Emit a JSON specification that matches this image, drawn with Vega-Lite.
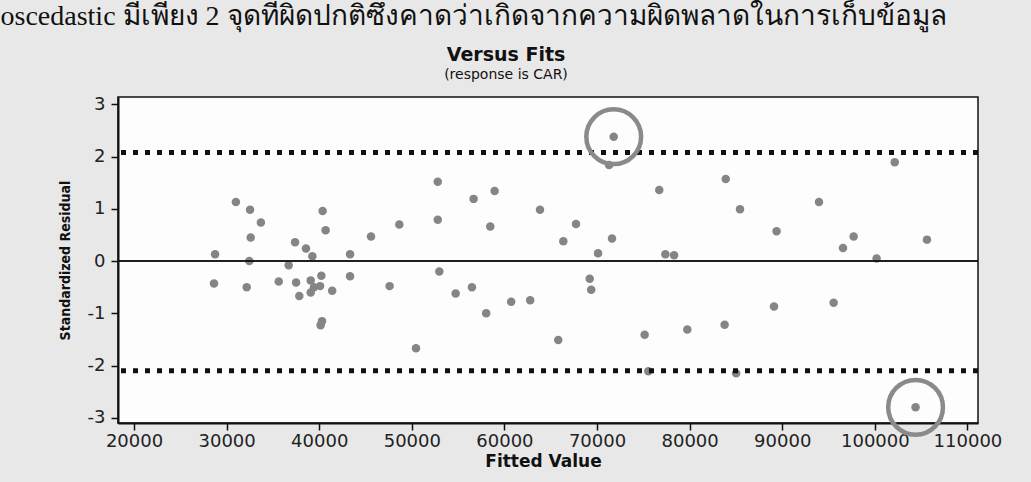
{
  "$schema": "https://vega.github.io/schema/vega-lite/v6.json",
  "width": 860,
  "height": 326,
  "autosize": "none",
  "padding": {"left": 118, "top": 97, "right": 53, "bottom": 59},
  "background": "#e8e8e8",
  "title": {
    "text": "Versus Fits",
    "subtitle": "(response is CAR)",
    "anchor": "middle",
    "frame": "group",
    "dx": -42,
    "dy": 80,
    "offset": 0,
    "font": "DejaVu Sans",
    "fontSize": 19,
    "fontWeight": "bold",
    "color": "#111",
    "subtitleFont": "DejaVu Sans",
    "subtitleFontSize": 14,
    "subtitleColor": "#111",
    "subtitlePadding": 3
  },
  "config": {
    "view": {"fill": "#fdfdfd", "stroke": "#111", "strokeWidth": 1.5},
    "axis": {
      "grid": false,
      "domainColor": "#111",
      "domainWidth": 2,
      "tickColor": "#111",
      "tickWidth": 1.5,
      "tickSize": 7,
      "labelFont": "DejaVu Sans",
      "labelFontSize": 18,
      "labelColor": "#222",
      "titleFont": "DejaVu Sans",
      "titleColor": "#111",
      "titleFontWeight": "bold"
    }
  },
  "datasets": {
    "fits": [
      {"fit": 28750, "resid": 0.13, "flag": false},
      {"fit": 28640, "resid": -0.43, "flag": false},
      {"fit": 31000, "resid": 1.13, "flag": false},
      {"fit": 32530, "resid": 0.98, "flag": false},
      {"fit": 33700, "resid": 0.74, "flag": false},
      {"fit": 32600, "resid": 0.45, "flag": false},
      {"fit": 32450, "resid": 0.0, "flag": false},
      {"fit": 32170, "resid": -0.5, "flag": false},
      {"fit": 35630, "resid": -0.39, "flag": false},
      {"fit": 36700, "resid": -0.08, "flag": false},
      {"fit": 37390, "resid": 0.36, "flag": false},
      {"fit": 37500, "resid": -0.41, "flag": false},
      {"fit": 37850, "resid": -0.67, "flag": false},
      {"fit": 38570, "resid": 0.24, "flag": false},
      {"fit": 39260, "resid": 0.09, "flag": false},
      {"fit": 39080, "resid": -0.37, "flag": false},
      {"fit": 39080, "resid": -0.6, "flag": false},
      {"fit": 39430, "resid": -0.5, "flag": false},
      {"fit": 40090, "resid": -0.48, "flag": false},
      {"fit": 40230, "resid": -0.28, "flag": false},
      {"fit": 40370, "resid": 0.96, "flag": false},
      {"fit": 40690, "resid": 0.59, "flag": false},
      {"fit": 41400, "resid": -0.57, "flag": false},
      {"fit": 40300, "resid": -1.15, "flag": false},
      {"fit": 40150, "resid": -1.23, "flag": false},
      {"fit": 43330, "resid": 0.13, "flag": false},
      {"fit": 43330, "resid": -0.29, "flag": false},
      {"fit": 45590, "resid": 0.47, "flag": false},
      {"fit": 47600, "resid": -0.48, "flag": false},
      {"fit": 48650, "resid": 0.7, "flag": false},
      {"fit": 50450, "resid": -1.67, "flag": false},
      {"fit": 52800, "resid": 1.52, "flag": false},
      {"fit": 52800, "resid": 0.79, "flag": false},
      {"fit": 52970, "resid": -0.2, "flag": false},
      {"fit": 54730, "resid": -0.62, "flag": false},
      {"fit": 56490, "resid": -0.5, "flag": false},
      {"fit": 56670, "resid": 1.19, "flag": false},
      {"fit": 58030, "resid": -1.0, "flag": false},
      {"fit": 58470, "resid": 0.66, "flag": false},
      {"fit": 58940, "resid": 1.34, "flag": false},
      {"fit": 60730, "resid": -0.78, "flag": false},
      {"fit": 62780, "resid": -0.75, "flag": false},
      {"fit": 63840, "resid": 0.98, "flag": false},
      {"fit": 65810, "resid": -1.51, "flag": false},
      {"fit": 66360, "resid": 0.38, "flag": false},
      {"fit": 67730, "resid": 0.71, "flag": false},
      {"fit": 69210, "resid": -0.34, "flag": false},
      {"fit": 69370, "resid": -0.55, "flag": false},
      {"fit": 70110, "resid": 0.15, "flag": false},
      {"fit": 71300, "resid": 1.84, "flag": false},
      {"fit": 71620, "resid": 0.43, "flag": false},
      {"fit": 71800, "resid": 2.38, "flag": true},
      {"fit": 75140, "resid": -1.41, "flag": false},
      {"fit": 75540, "resid": -2.11, "flag": false},
      {"fit": 76720, "resid": 1.36, "flag": false},
      {"fit": 77380, "resid": 0.13, "flag": false},
      {"fit": 78320, "resid": 0.11, "flag": false},
      {"fit": 79750, "resid": -1.31, "flag": false},
      {"fit": 83780, "resid": -1.22, "flag": false},
      {"fit": 83900, "resid": 1.57, "flag": false},
      {"fit": 85020, "resid": -2.15, "flag": false},
      {"fit": 85440, "resid": 0.99, "flag": false},
      {"fit": 89110, "resid": -0.87, "flag": false},
      {"fit": 89390, "resid": 0.57, "flag": false},
      {"fit": 93970, "resid": 1.13, "flag": false},
      {"fit": 95550, "resid": -0.8, "flag": false},
      {"fit": 96560, "resid": 0.25, "flag": false},
      {"fit": 97710, "resid": 0.47, "flag": false},
      {"fit": 100190, "resid": 0.05, "flag": false},
      {"fit": 102150, "resid": 1.89, "flag": false},
      {"fit": 104400, "resid": -2.8, "flag": true},
      {"fit": 105630, "resid": 0.41, "flag": false}
    ],
    "limits": [
      {"level": 2.08},
      {"level": -2.1}
    ]
  },
  "layer": [
    {
      "data": {"name": "fits"},
      "mark": {"type": "point", "shape": "circle", "filled": true, "size": 72, "color": "#858585", "opacity": 1},
      "encoding": {
        "x": {
          "field": "fit",
          "type": "quantitative",
          "title": "Fitted Value",
          "scale": {"domain": [18270, 111140], "nice": false, "zero": false},
          "axis": {
            "values": [20000, 30000, 40000, 50000, 60000, 70000, 80000, 90000, 100000, 110000],
            "format": "d",
            "labelPadding": 2,
            "titleFontSize": 17,
            "titlePadding": 3,
            "titleX": 425
          }
        },
        "y": {
          "field": "resid",
          "type": "quantitative",
          "title": "Standardized Residual",
          "scale": {"domain": [-3.1, 3.14], "nice": false, "zero": false},
          "axis": {
            "values": [-3, -2, -1, 0, 1, 2, 3],
            "labelExpr": "'' + datum.value",
            "labelPadding": 6,
            "titleFont": "DejaVu Sans Condensed",
            "titleFontSize": 14,
            "titleFontWeight": 900,
            "titlePadding": 15
          }
        }
      }
    },
    {
      "data": {"name": "limits"},
      "mark": {"type": "rule", "color": "#111", "strokeWidth": 5, "strokeDash": [5, 7]},
      "encoding": {
        "y": {"field": "level", "type": "quantitative"}
      }
    },
    {
      "data": {"name": "limits"},
      "mark": {"type": "rule", "color": "#111", "strokeWidth": 1.6},
      "encoding": {
        "y": {"datum": 0, "type": "quantitative"}
      }
    },
    {
      "data": {"name": "fits"},
      "transform": [{"filter": "datum.flag"}],
      "mark": {"type": "point", "shape": "circle", "filled": false, "size": 3000, "stroke": "#8a8a8a", "strokeWidth": 4.5, "opacity": 1},
      "encoding": {
        "x": {
          "field": "fit",
          "type": "quantitative",
          "axis": {
            "orient": "top",
            "title": "oscedastic มีเพียง 2 จุดที่ผิดปกติซึ่งคาดว่าเกิดจากความผิดพลาดในการเก็บข้อมูล",
            "titleFont": "Liberation Serif",
            "titleFontSize": 28,
            "titleFontWeight": "normal",
            "titleColor": "#111",
            "titleAlign": "left",
            "titleAnchor": "start",
            "titleBaseline": "alphabetic",
            "titleX": -118,
            "titleY": -73,
            "labels": false,
            "ticks": false,
            "domain": false
          }
        },
        "y": {"field": "resid", "type": "quantitative"}
      }
    }
  ],
  "resolve": {"axis": {"x": "independent"}}
}
